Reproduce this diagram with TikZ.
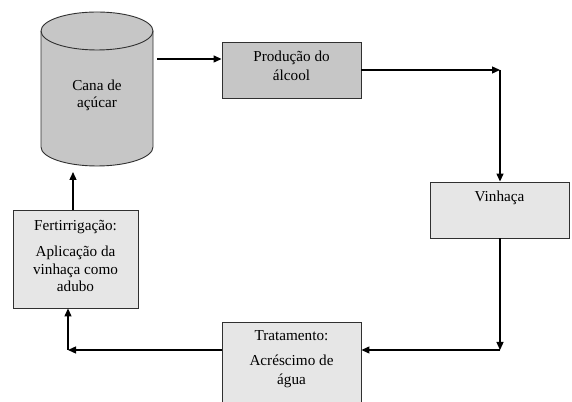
\documentclass[tikz,border=0pt]{standalone}
\usepackage{fontspec}
\setmainfont{Liberation Serif}
\usetikzlibrary{arrows.meta,calc}
\definecolor{darkbox}{HTML}{C6C6C6}
\definecolor{lightbox}{HTML}{E6E6E6}
\definecolor{edge}{HTML}{303030}
\newcommand{\fs}[1]{\fontsize{15.2}{#1}\selectfont}
\begin{document}
\begin{tikzpicture}[x=1pt,y=1pt,
  font=\fs{18},
  box/.style={draw=edge,line width=0.9pt,rectangle,inner sep=0pt},
  inlabel/.style={anchor=base,align=center,inner sep=0pt,label distance=0pt},
  conn/.style={line width=1.3pt,black,-{Triangle[length=8pt,width=7pt]}}]
\useasboundingbox (0,0) rectangle (572,401);
% cylinder
\path[fill=darkbox,draw=edge,line width=0.9pt]
  (41,370) -- (41,254) arc[start angle=180,end angle=360,x radius=56,y radius=19]
  -- (153,370) arc[start angle=0,end angle=180,x radius=56,y radius=19] -- cycle;
\draw[edge,line width=0.9pt] (153,370) arc[start angle=0,end angle=-180,x radius=56,y radius=19];
\node[inner sep=0pt,minimum width=112pt,minimum height=154pt,
  label={[inlabel,font=\fs{17},yshift=-96pt]north:{Cana de\\açúcar}}] (cana) at (97,312) {};
% boxes
\node[box,fill=darkbox,minimum width=139pt,minimum height=56pt,
  label={[inlabel,font=\fs{19},yshift=-39pt]north:{Produção do\\álcool}}] (prod) at (291.5,331) {};
\node[box,fill=lightbox,minimum width=139pt,minimum height=56pt,
  label={[inlabel,yshift=-20pt]north:{Vinhaça}}] (vin) at (499.5,191) {};
\node[box,fill=lightbox,minimum width=139pt,minimum height=83pt,
  label={[inlabel,font=\fs{19},yshift=-63pt]north:{Tratamento:\\[6pt]Acréscimo de\\água}}] (trat) at (291.5,37.5) {};
\node[box,fill=lightbox,minimum width=125pt,minimum height=98pt,
  label={[inlabel,font=\fs{17.5},yshift=-82pt]north:{Fertirrigação:\\[9pt]Aplicação da\\vinhaça como\\adubo}}] (fert) at (75.5,142) {};
% corner points
\coordinate (c1) at (500,331);
\coordinate (c2) at (500,51);
\coordinate (c3) at (68,51);
\coordinate (c4) at (73,229);
% connectors
\draw[conn] (157,342) -- (prod.west |- 0,342);
\draw[conn] (prod.east) -- (c1);
\draw[conn] (c1) -- (vin.north -| c1);
\draw[conn] (vin.south -| c2) -- (c2);
\draw[conn] (c2) -- (trat.east |- c2);
\draw[conn] (trat.west |- c3) -- (c3);
\draw[conn] (c3) -- (fert.south -| c3);
\draw[conn] (fert.north -| c4) -- (c4);
\end{tikzpicture}
\end{document}
